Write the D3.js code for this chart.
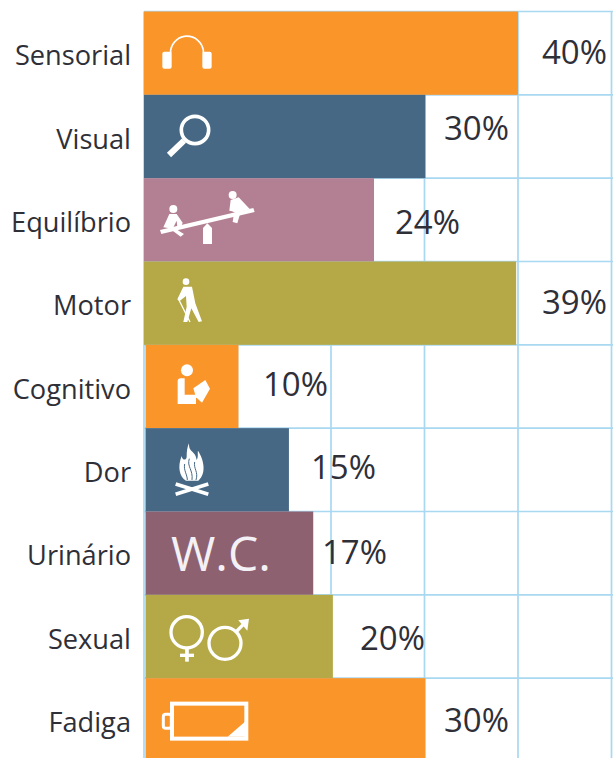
<!DOCTYPE html>
<html>
<head>
<meta charset="utf-8">
<script src="https://cdn.jsdelivr.net/npm/d3@7"></script>
<style>
html, body { margin: 0; padding: 0; background: #fff; overflow: hidden; }
svg { display: block; }
</style>
</head>
<body>
<div id="chart"></div>
<script>
const categories = ["Sensorial", "Visual", "Equilíbrio", "Motor", "Cognitivo", "Dor", "Urinário", "Sexual", "Fadiga"];
// printed labels and the bar lengths read off the picture do not always agree
const percentLabels = ["40%", "30%", "24%", "39%", "10%", "15%", "17%", "20%", "30%"];
const barLengths = [40, 30.1, 24.6, 39.8, 10.1, 15.5, 18.1, 20.2, 30.1];
const barColors = ["#fa952a", "#466884", "#b37f92", "#b4a946", "#fa952a", "#466884", "#8e6171", "#b4a946", "#fa952a"];
const gridTicks = [0, 10, 20, 30, 40, 50];

const width = 613;
const height = 758;

// percent labels were placed by hand in the original: right edge and vertical nudge
const labelEnd = [607, 509, 460, 607, 328, 376, 387, 425, 509];
const labelNudge = [0, -7, 4, 0, -1, -1, 0, 3, 2];

const xScale = d3.scaleLinear().domain([0, 50]).range([144, 611.5]);
const yScale = d3.scaleBand().domain(categories).range([11.5, 761.5]).padding(0);

const svg = d3.select("#chart").append("svg")
    .attr("width", width)
    .attr("height", height)
    .attr("viewBox", [0, 0, width, height]);

const gridColor = "#a9d8f1";
const fontFamily = "'Open Sans', 'Noto Sans', sans-serif";

// grid
svg.append("g").selectAll("line.v")
    .data(gridTicks)
    .join("line")
    .attr("x1", d => xScale(d))
    .attr("x2", d => xScale(d))
    .attr("y1", yScale.range()[0])
    .attr("y2", height)
    .attr("stroke", gridColor)
    .attr("stroke-width", 1.7);

svg.append("g").selectAll("line.h")
    .data(categories.concat(["end"]))
    .join("line")
    .attr("x1", xScale(0))
    .attr("x2", width)
    .attr("y1", (d, i) => yScale.range()[0] + i * yScale.step())
    .attr("y2", (d, i) => yScale.range()[0] + i * yScale.step())
    .attr("stroke", gridColor)
    .attr("stroke-width", 1.7);

// the lower rows start a little to the right in the original
function barStart(i) {
    return xScale(0) + (i >= 4 ? 1.5 : 0);
}

// bars
svg.append("g").selectAll("rect")
    .data(categories)
    .join("rect")
    .attr("x", (d, i) => barStart(i))
    .attr("y", d => yScale(d))
    .attr("width", (d, i) => xScale(barLengths[i]) - barStart(i))
    .attr("height", yScale.bandwidth())
    .attr("fill", (d, i) => barColors[i]);

// category names
svg.append("g").selectAll("text")
    .data(categories)
    .join("text")
    .attr("x", 131)
    .attr("y", (d, i) => yScale(d) + yScale.bandwidth() / 2 + (i == 0 ? 2 : 2.8))
    .attr("dy", "0.35em")
    .attr("text-anchor", "end")
    .attr("font-family", fontFamily)
    .attr("font-size", 27.2)
    .attr("fill", "#2f2f38")
    .text(d => d);

// percent labels
svg.append("g").selectAll("text")
    .data(percentLabels)
    .join("text")
    .attr("x", (d, i) => labelEnd[i])
    .attr("y", (d, i) => yScale(categories[i]) + yScale.bandwidth() / 2 - 1 + labelNudge[i])
    .attr("dy", "0.35em")
    .attr("text-anchor", "end")
    .attr("font-family", fontFamily)
    .attr("font-size", 33)
    .attr("fill", "#2f2f38")
    .text(d => d);

// icons, drawn at 3x and scaled down
const white = "#fff";

function iconGroup(cat, top) {
    return svg.append("g")
        .attr("class", "icon-" + cat)
        .attr("transform", "translate(130," + top + ") scale(0.3333)");
}

function headphones(g) {
    g.append("path").attr("d", "M122 160 V150 A50 52 0 0 1 220 150 V160")
        .attr("fill", "none").attr("stroke", white).attr("stroke-width", 5);
    g.append("rect").attr("x", 97).attr("y", 155).attr("width", 28).attr("height", 51).attr("rx", 6).attr("fill", white);
    g.append("rect").attr("x", 217).attr("y", 155).attr("width", 28).attr("height", 51).attr("rx", 6).attr("fill", white);
}

function magnifier(g) {
    g.append("circle").attr("cx", 195).attr("cy", 390).attr("r", 41)
        .attr("fill", "none").attr("stroke", white).attr("stroke-width", 11);
    g.append("line").attr("x1", 162).attr("y1", 422).attr("x2", 117).attr("y2", 465)
        .attr("stroke", white).attr("stroke-width", 18);
}

function seesaw(g) {
    g.append("path").attr("d", "M90 690 L370 624 L374 636 L94 702 Z").attr("fill", white);
    g.append("path").attr("d", "M219 684 L232 670 L246 684 V732 H219 Z").attr("fill", white);
    g.append("circle").attr("cx", 130).attr("cy", 627).attr("r", 12).attr("fill", white);
    g.append("path").attr("d", "M118 642 L140 642 L158 668 L152 684 L142 680 L140 662 L128 686 L100 682 Z").attr("fill", white);
    g.append("path").attr("d", "M130 682 L152 696 L162 702 L152 710 L128 692 Z").attr("fill", white);
    g.append("circle").attr("cx", 308).attr("cy", 585).attr("r", 12).attr("fill", white);
    g.append("path").attr("d", "M302 600 L326 592 L360 628 L316 638 L306 634 L298 632 Z").attr("fill", white);
    g.append("path").attr("d", "M312 640 L332 636 L322 670 L308 666 Z").attr("fill", white);
}

function walker(g) {
    g.append("circle").attr("cx", 168).attr("cy", 65).attr("r", 10).attr("fill", white);
    g.append("path").attr("d", "M160 80 H186 L196 130 L216 184 L206 186 L184 145 L172 186 H160 L170 140 L168 108 L148 124 L142 118 Z").attr("fill", white);
    g.append("line").attr("x1", 147).attr("y1", 120).attr("x2", 180).attr("y2", 186)
        .attr("stroke", white).attr("stroke-width", 4);
}

function reader(g) {
    g.append("circle").attr("cx", 171).attr("cy", 331).attr("r", 18).attr("fill", white);
    g.append("path").attr("d", "M143 364 Q143 355 152 355 H164 V404 H198 V432 H143 Z").attr("fill", white);
    g.append("path").attr("d", "M190 385 L226 360 L240 386 L216 428 L198 412 Z").attr("fill", white);
}

function fire(g, bg) {
    g.append("path").attr("d", "M177 550 C176 580 196 570 200 600 C206 590 202 578 204 572 C222 600 230 640 205 662 H168 C148 650 142 620 155 588 C158 604 170 600 170 590 C170 575 172 560 177 550 Z").attr("fill", white);
    g.append("path").attr("d", "M178 596 C170 620 190 630 186 660 M194 606 C190 626 206 636 198 660 M164 612 C160 630 172 644 172 660")
        .attr("fill", "none").attr("stroke", bg).attr("stroke-width", 3);
    g.append("line").attr("x1", 137).attr("y1", 672).attr("x2", 235).attr("y2", 703).attr("stroke", white).attr("stroke-width", 11);
    g.append("line").attr("x1", 235).attr("y1", 672).attr("x2", 137).attr("y2", 703).attr("stroke", white).attr("stroke-width", 11);
}

function genders(g) {
    g.append("circle").attr("cx", 170).attr("cy", 397).attr("r", 47)
        .attr("fill", "none").attr("stroke", white).attr("stroke-width", 10);
    g.append("line").attr("x1", 171).attr("y1", 445).attr("x2", 171).attr("y2", 485).attr("stroke", white).attr("stroke-width", 11);
    g.append("line").attr("x1", 150).attr("y1", 466).attr("x2", 192).attr("y2", 466).attr("stroke", white).attr("stroke-width", 10);
    g.append("circle").attr("cx", 285).attr("cy", 430).attr("r", 48)
        .attr("fill", "none").attr("stroke", white).attr("stroke-width", 10);
    g.append("line").attr("x1", 318).attr("y1", 396).attr("x2", 345).attr("y2", 368).attr("stroke", white).attr("stroke-width", 10);
    g.append("path").attr("d", "M325 361 L357 356 L352 392 Z").attr("fill", white);
}

function battery(g) {
    g.append("rect").attr("x", 126).attr("y", 611).attr("width", 223).attr("height", 105)
        .attr("fill", "none").attr("stroke", white).attr("stroke-width", 12);
    g.append("rect").attr("x", 100).attr("y", 643).attr("width", 24).attr("height", 42).attr("rx", 7)
        .attr("fill", "none").attr("stroke", white).attr("stroke-width", 9);
    g.append("path").attr("d", "M293 710 L345 665 V710 Z").attr("fill", white);
}

// rows of the reference crops the icons were read from
headphones(iconGroup("sensorial", 0));
magnifier(iconGroup("visual", 0));
seesaw(iconGroup("equilibrio", 0));
walker(iconGroup("motor", 260));
reader(iconGroup("cognitivo", 260));
fire(iconGroup("dor", 260), barColors[5]);
genders(iconGroup("sexual", 500));
battery(iconGroup("fadiga", 500));

// W.C. is plain text in the original
svg.append("text")
    .attr("x", 171)
    .attr("y", yScale("Urinário") + yScale.bandwidth() / 2 + 1)
    .attr("dy", "0.35em")
    .attr("font-family", fontFamily)
    .attr("font-size", 48)
    .attr("fill", "#f4f1f6")
    .text("W.C.");
</script>
</body>
</html>
